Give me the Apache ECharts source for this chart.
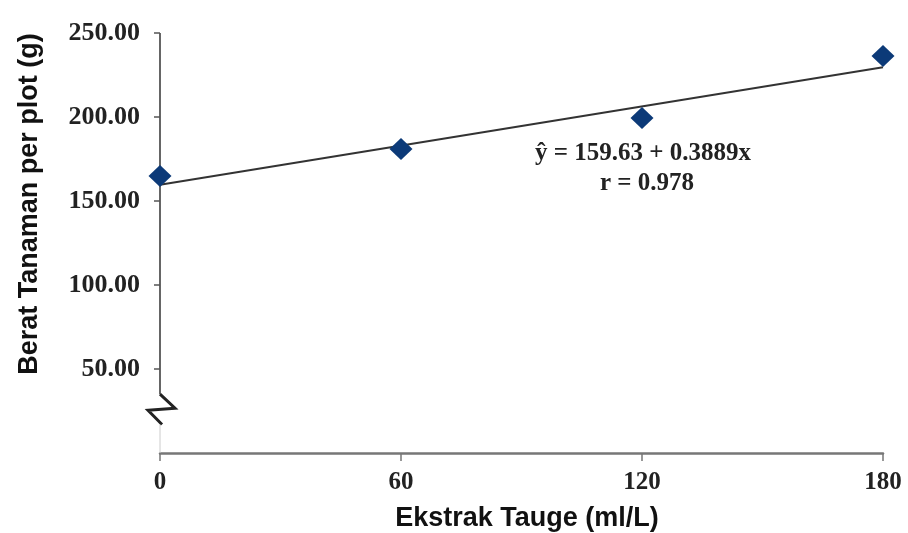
<!DOCTYPE html>
<html><head><meta charset="utf-8">
<script src="https://cdn.jsdelivr.net/npm/echarts@6/dist/echarts.min.js"></script>
<style>html,body{margin:0;padding:0;background:#fff}#c{width:908px;height:533px}</style>
</head><body><div id="c"></div>
<script>
const doses = [0, 60, 120, 180];
const weights = [164.9, 181.0, 199.4, 236.3];
const trendX = [0, 180];
const trendY = [159.63, 229.63];
const yTicks = [50, 100, 150, 200, 250];
const xTicks = [0, 60, 120, 180];
const axisBreak = [35, 17];

const chart = echarts.init(document.getElementById('c'));
const serif = '"Liberation Serif", "DejaVu Serif", serif';
const sans = '"Liberation Sans", Arial, sans-serif';

chart.setOption({
  animation: false,
  grid: { left: 160, right: 25, top: 33, bottom: 80, outerBoundsMode: 'none', containLabel: false },
  xAxis: {
    type: 'value', min: 0, max: 180, interval: 60,
    name: 'Ekstrak Tauge (ml/L)', nameLocation: 'middle', nameGap: 52,
    nameTextStyle: { fontFamily: sans, fontWeight: 'bold', fontSize: 27, color: '#111', padding: [0, 0, 0, 11] },
    axisLine: { show: true, lineStyle: { color: '#777', width: 2.5 } },
    axisTick: { show: true, length: 8, lineStyle: { color: '#777', width: 1.5 }, customValues: xTicks },
    axisLabel: { customValues: xTicks, margin: 17, fontFamily: serif, fontWeight: 'bold', fontSize: 25, color: '#222', formatter: v => String(v) },
    splitLine: { show: false }
  },
  yAxis: {
    type: 'value', min: 0, max: 250, interval: 50,
    name: 'Berat Tanaman per plot (g)', nameLocation: 'middle', nameGap: 117, nameRotate: 90,
    nameTextStyle: { fontFamily: sans, fontWeight: 'bold', fontSize: 27, color: '#111', padding: [0, 0, 0, 78] },
    axisLine: { show: false },
    axisTick: { show: true, inside: false, length: 6, lineStyle: { color: '#555', width: 1.5 }, customValues: yTicks },
    axisLabel: { customValues: yTicks, margin: 20, fontFamily: serif, fontWeight: 'bold', fontSize: 26, color: '#222', formatter: v => v.toFixed(2) },
    splitLine: { show: false }
  },
  graphic: [
    { type: 'text', left: 535, top: 141, style: { text: 'ŷ = 159.63 + 0.3889x', font: 'bold 25px ' + serif, fill: '#222' } },
    { type: 'text', left: 600, top: 171, style: { text: 'r = 0.978', font: 'bold 25px ' + serif, fill: '#222' } }
  ],
  series: [
    {
      type: 'custom', clip: false, silent: true, z: 1,
      data: [[0]],
      renderItem: function (params, api) {
        const top = api.coord([0, 250]);
        const b1 = api.coord([0, axisBreak[0]]);
        const b2 = api.coord([0, axisBreak[1]]);
        const bot = api.coord([0, 0]);
        return {
          type: 'group',
          children: [
            { type: 'line', shape: { x1: top[0], y1: top[1], x2: b1[0], y2: b1[1] }, style: { stroke: '#555', lineWidth: 1.8 } },
            { type: 'polyline', shape: { points: [[b1[0], b1[1]], [b1[0] + 15, b1[1] + 14], [b1[0] - 12, b1[1] + 16], [b2[0] + 2, b2[1]]] }, style: { stroke: '#222', lineWidth: 3, fill: null } },
            { type: 'line', shape: { x1: b2[0], y1: b2[1], x2: bot[0], y2: bot[1] }, style: { stroke: '#ccc', lineWidth: 1 } }
          ]
        };
      }
    },
    {
      type: 'line', data: trendX.map((x, i) => [x, trendY[i]]),
      symbol: 'none', lineStyle: { color: '#333', width: 2 }, z: 2
    },
    {
      type: 'scatter', data: doses.map((x, i) => [x, weights[i]]),
      symbol: 'diamond', symbolSize: [23, 22],
      itemStyle: { color: '#0c3a78', opacity: 1 }, z: 3
    }
  ]
});
</script></body></html>
